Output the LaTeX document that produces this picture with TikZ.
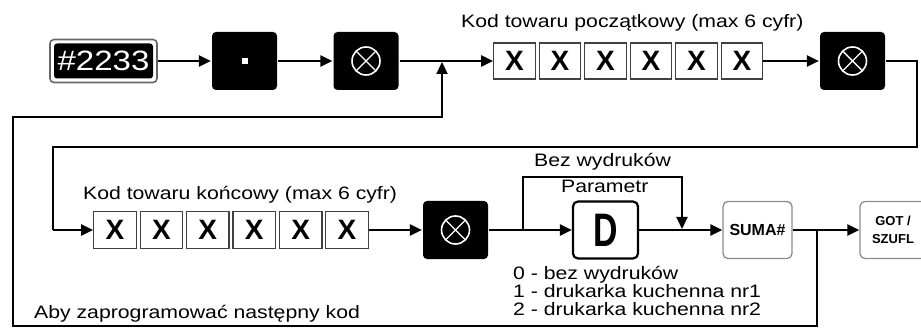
\documentclass[tikz,border=0pt]{standalone}
\usepackage{fontspec}
\setmainfont{Liberation Sans}
\newfontfamily\lab[FakeStretch=1.18]{Liberation Sans}
\newfontfamily\dfont[FakeStretch=0.72]{Liberation Sans}
\usetikzlibrary{arrows.meta}
\newcommand\myotim[1]{%
  \draw[white,line width=1.6pt] (#1) circle[radius=14];
  \draw[white,line width=1.4pt] ([shift={(-9.8,-9.8)}]#1.center) -- ([shift={(9.8,9.8)}]#1.center)
        ([shift={(-9.8,9.8)}]#1.center) -- ([shift={(9.8,-9.8)}]#1.center);}
\begin{document}
\begin{tikzpicture}[x=1pt,y=-1pt,line width=2.2pt,
  arr/.style={-{Triangle[length=12pt,width=11pt]}},
  blk/.style={fill=black,rounded corners=4pt,minimum width=65pt,minimum height=58pt,inner sep=0pt},
  xbox/.style={draw=black!75,line width=1.3pt,minimum width=41.5pt,minimum height=36pt,inner sep=0pt,
    font=\fontsize{28}{28}\selectfont\bfseries},
  lbl/.style={font=\lab\fontsize{18}{18}\selectfont,inner sep=0pt,anchor=base west},
  lightbox/.style={draw=black!45,line width=1.3pt,rounded corners=5pt,minimum height=57pt,inner sep=0pt}]
\useasboundingbox (0,0) rectangle (921,331);

% ---- row 1 ----
\node[draw=black!60,line width=1.6pt,rounded corners=4pt,fill=white,minimum width=107pt,minimum height=43pt,inner sep=0pt] (b1) at (103.5,61) {};
\node[fill=black,rounded corners=3pt,minimum width=99pt,minimum height=35pt,inner sep=0pt,
  font=\lab\fontsize{28}{28}\selectfont,text=white] (b1t) at (b1.center) {\#2233};
\node[blk] (b2) at (244.5,61) {};
\node[fill=white,minimum size=6pt,inner sep=0pt] (dot) at (b2.center) {};
\node[blk] (b3) at (366,61) {};
\myotim{b3}
\foreach \i in {1,...,6}{
  \node[xbox] (x1\i) at ({514.5+45.5*(\i-1)},61) {X};
}
\node[lbl] (lab1) at (460,28) {Kod towaru początkowy (max 6 cyfr)};
\node[blk] (b4) at (852.5,61) {};
\myotim{b4}

\draw[arr] (b1.east) -- (b2.west);
\draw[arr] (b2.east) -- (b3.west);
\draw[arr] (b3.east) -- (x11.west);
\draw[arr] (x16.east) -- (b4.west);

% ---- transition ----
\coordinate (t1) at (917,61);
\coordinate (t2) at (917,147);
\coordinate (t3) at (53,147);
\coordinate (t4) at (53,230);

% ---- row 2 ----
\foreach \i in {1,...,6}{
  \node[xbox,minimum width=42.5pt,minimum height=37pt] (x2\i) at ({115+46.4*(\i-1)},230) {X};
}
\node[lbl] (lab2) at (82,200) {Kod towaru końcowy (max 6 cyfr)};
\node[blk] (b5) at (455.5,230) {};
\myotim{b5}
\node[draw,line width=2.2pt,rounded corners=5pt,minimum width=65pt,minimum height=57pt,inner sep=0pt,
  font=\dfont\bfseries\fontsize{47}{47}\selectfont] (D) at (605.5,230) {D};
\node[lightbox,minimum width=69pt,font=\fontsize{16}{16}\selectfont\bfseries] (S) at (757.5,230) {SUMA\#};
\node[lightbox,minimum width=66pt,font=\fontsize{13}{18}\selectfont\bfseries,align=center] (G) at (893,230) {GOT /\\SZUFL};

\draw (b4.east) -- (t1) -- (t2) -- (t3) -- (t4);
\draw[arr] (t4) -- (x21.west);
\draw[arr] (x26.east) -- (b5.west);
\draw[arr] (b5.east) -- (D.west);
\draw[arr] (D.east) -- (S.west);
\draw[arr] (S.east) -- (G.west);

% bypass
\coordinate (p1) at (523,230);
\coordinate (p2) at (523,177);
\coordinate (p3) at (682,177);
\coordinate (p4) at (682,229);
\draw[arr] (p1) -- (p2) -- (p3) -- (p4);
\node[lbl] (bez) at (533,167) {Bez wydruków};
\node[lbl] (par) at (560,193) {Parametr};
\node[lbl] (o0) at (512,279) {0 - bez wydruków};
\node[lbl] (o1) at (512,297) {1 - drukarka kuchenna nr1};
\node[lbl] (o2) at (512,315) {2 - drukarka kuchenna nr2};

% loop back
\coordinate (l1) at (817,230);
\coordinate (l2) at (817,326);
\coordinate (l3) at (13,326);
\coordinate (l4) at (13,117);
\coordinate (l5) at (442,117);
\coordinate (l6) at (442,62);
\draw[arr] (l1) -- (l2) -- (l3) -- (l4) -- (l5) -- (l6);
\node[lbl] (aby) at (33,318) {Aby zaprogramować następny kod};
\end{tikzpicture}
\end{document}
